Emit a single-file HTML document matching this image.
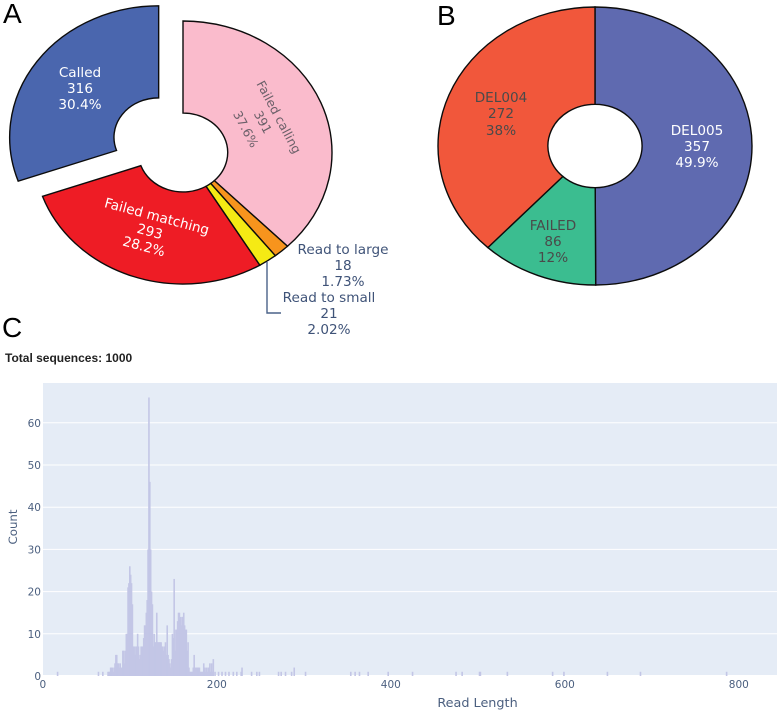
<!DOCTYPE html>
<html lang="en">
<head>
<meta charset="utf-8">
<title>Read classification and length distribution</title>
<style>
html,body{margin:0;padding:0;background:#fff;width:780px;height:713px;overflow:hidden}
svg{display:block;filter:blur(0.35px)}
text{font-family:"DejaVu Sans","Liberation Sans",sans-serif}
.pl{font-size:13.6px;text-anchor:middle}
.pr{font-size:12.4px;text-anchor:middle}
.panel{font-family:"Liberation Sans",sans-serif;font-size:28px;fill:#000}
.tick{font-size:10.5px;fill:#4b5f7f}
.title{font-size:12.8px;fill:#4b5f7f;text-anchor:middle}
</style>
</head>
<body>
<svg id="fig" xmlns="http://www.w3.org/2000/svg" width="780" height="713" viewBox="0 0 780 713">
  <rect x="0" y="0" width="780" height="713" fill="#fff"/>
  <g id="pieA"></g>
  <g id="pieB"></g>

  <text class="panel" x="3" y="23">A</text>
  <text class="panel" x="437" y="25">B</text>
  <text class="panel" x="2" y="337">C</text>

  <g fill="#fff">
    <text class="pl" x="80" y="77">Called</text>
    <text class="pl" x="80" y="93">316</text>
    <text class="pl" x="80" y="109">30.4%</text>
  </g>
  <g fill="#6a5f68">
    <text class="pr" transform="translate(279,117) rotate(62)" y="4.5">Failed calling</text>
    <text class="pr" transform="translate(263,122) rotate(62)" y="4.5">391</text>
    <text class="pr" transform="translate(246,129) rotate(62)" y="4.5">37.6%</text>
  </g>
  <g fill="#fff">
    <text class="pl" transform="translate(157,216) rotate(15)" y="5">Failed matching</text>
    <text class="pl" transform="translate(150,231) rotate(15)" y="5">293</text>
    <text class="pl" transform="translate(144,246) rotate(15)" y="5">28.2%</text>
  </g>
  <g fill="#3f5378">
    <text class="pl" x="343" y="254">Read to large</text>
    <text class="pl" x="343" y="270">18</text>
    <text class="pl" x="343" y="286">1.73%</text>
  </g>
  <g fill="#3f5378">
    <text class="pl" x="329" y="302">Read to small</text>
    <text class="pl" x="329" y="318">21</text>
    <text class="pl" x="329" y="334">2.02%</text>
  </g>
  <path d="M267 262V313H281" fill="none" stroke="#4a6288" stroke-width="1.4"/>

  <g fill="#fff">
    <text class="pl" x="697" y="135">DEL005</text>
    <text class="pl" x="697" y="151">357</text>
    <text class="pl" x="697" y="167">49.9%</text>
  </g>
  <g fill="#4a4a4a">
    <text class="pl" x="501" y="102">DEL004</text>
    <text class="pl" x="501" y="118">272</text>
    <text class="pl" x="501" y="135">38%</text>
  </g>
  <g fill="#4a4a4a">
    <text class="pl" x="553" y="230">FAILED</text>
    <text class="pl" x="553" y="246">86</text>
    <text class="pl" x="553" y="262">12%</text>
  </g>

  <text x="5" y="362" style="font-family:'Liberation Sans',sans-serif;font-weight:bold;font-size:12px;fill:#222">Total sequences: 1000</text>

  <rect x="43" y="383" width="734" height="293" fill="#e5ecf6"/>
  <g id="grid"></g>
  <g id="bars"></g>
  <g id="xticks"></g>
  <g id="yticks"></g>
  <text class="title" x="477.5" y="707">Read Length</text>
  <text class="title" style="font-size:11.8px" transform="translate(17,527) rotate(-90)">Count</text>
</svg>
<script>
var pieANames = ['failed-calling', 'read-to-large', 'read-to-small', 'failed-matching', 'called'];
var pieAValues = [391, 18, 21, 293, 316];
var pieAColors = ['#fabbcc', '#f7941d', '#f5ea14', '#ee1c25', '#4a66ae'];
var pieAPull = [0, 0, 0, 0, 0.2];

var pieBNames = ['del005', 'failed', 'del004'];
var pieBValues = [357, 86, 272];
var pieBColors = ['#5f6ab0', '#3bbd90', '#f1573b'];

var xTickValues = [0, 200, 400, 600, 800];
var yTickValues = [0, 10, 20, 30, 40, 50, 60];

var histLengths = [17,64,69,75,76,77,78,79,80,81,82,83,84,85,86,87,88,89,90,91,92,93,94,95,96,97,98,99,100,101,102,103,104,105,106,107,108,109,110,111,112,113,114,115,116,117,118,119,120,121,122,123,124,125,126,127,128,129,130,131,132,133,134,135,136,137,138,139,140,141,142,143,144,145,146,147,148,149,150,151,152,153,154,155,156,157,158,159,160,161,162,163,164,165,166,167,168,169,170,171,172,173,174,175,176,177,178,179,180,181,182,183,184,185,186,187,188,189,190,191,192,193,194,195,196,198,202,206,210,214,219,223,228,229,240,246,249,271,274,279,286,289,302,354,359,364,374,397,425,475,482,502,503,534,586,599,649,687,786];
var histCounts = [1,1,1,1,1,1,2,2,2,1,2,3,5,5,3,3,2,3,2,2,6,6,3,6,10,10,21,22,26,24,22,17,7,7,5,7,7,10,7,4,5,7,7,7,9,12,12,15,18,30,66,46,30,20,17,7,10,8,8,15,8,8,8,8,8,7,7,6,7,8,5,12,5,4,3,2,4,10,9,23,6,11,11,13,15,15,14,12,14,14,15,12,11,11,6,8,2,1,1,1,1,2,5,2,2,2,2,2,2,1,1,1,1,3,2,1,2,1,2,2,3,1,3,1,4,1,1,1,1,1,1,1,1,2,1,1,1,1,1,1,1,2,1,1,1,1,1,1,1,1,1,1,1,1,1,1,1,1,1];

var SVG_NS = 'http://www.w3.org/2000/svg';
var BAR_COLOR = '#c3c6e6';

function xScale(v) { return 42.8 + v * 0.87; }
function yScale(v) { return 676 - v * 4.22; }

function polar(g, frac, r) {
  var a = frac * 2 * Math.PI;
  return [g.cx + g.rx * r * Math.sin(a), g.cy - g.ry * r * Math.cos(a)];
}

function slicePath(g, f0, f1, pull) {
  var mid = (f0 + f1) / 2;
  var off = polar({cx: 0, cy: 0, rx: g.rx, ry: g.ry}, mid, pull);
  var s = {cx: g.cx + off[0], cy: g.cy + off[1], rx: g.rx, ry: g.ry};
  var hole = g.hole;
  var large = (f1 - f0) > 0.5 ? 1 : 0;
  var a = polar(s, f0, 1);
  var b = polar(s, f1, 1);
  var c = polar(s, f1, hole);
  var d = polar(s, f0, hole);
  return 'M' + a[0] + ' ' + a[1] +
    'A' + s.rx + ' ' + s.ry + ' 0 ' + large + ' 1 ' + b[0] + ' ' + b[1] +
    'L' + c[0] + ' ' + c[1] +
    'A' + s.rx * hole + ' ' + s.ry * hole + ' 0 ' + large + ' 0 ' + d[0] + ' ' + d[1] + 'Z';
}

function drawPie(parent, geom, names, values, colors, pulls) {
  var total = values.reduce(function (p, v) { return p + v; }, 0);
  var acc = 0;
  values.forEach(function (v, i) {
    var f0 = acc / total;
    acc += v;
    var f1 = acc / total;
    var p = document.createElementNS(SVG_NS, 'path');
    p.setAttribute('d', slicePath(geom, f0, f1, pulls ? pulls[i] : 0));
    p.setAttribute('fill', colors[i]);
    p.setAttribute('stroke', '#0c0c0c');
    p.setAttribute('stroke-width', '1.4');
    p.setAttribute('stroke-linejoin', 'miter');
    
    
    parent.appendChild(p);
  });
}

drawPie(document.getElementById('pieA'), {cx: 183, cy: 152.5, rx: 149, ry: 131.5, hole: 0.3}, pieANames, pieAValues, pieAColors, pieAPull);
drawPie(document.getElementById('pieB'), {cx: 595, cy: 146, rx: 157, ry: 139, hole: 0.3}, pieBNames, pieBValues, pieBColors, null);

var gridGroup = document.getElementById('grid');
var yGroup = document.getElementById('yticks');
yTickValues.forEach(function (v) {
  var l = document.createElementNS(SVG_NS, 'line');
  l.setAttribute('x1', 43);
  l.setAttribute('x2', 777);
  l.setAttribute('y1', yScale(v));
  l.setAttribute('y2', yScale(v));
  l.setAttribute('stroke', '#fff');
  l.setAttribute('stroke-width', v === 0 ? 2 : 1);
  
  
  gridGroup.appendChild(l);
  var t = document.createElementNS(SVG_NS, 'text');
  t.setAttribute('class', 'tick');
  t.setAttribute('x', 41);
  t.setAttribute('y', yScale(v) + 4);
  t.setAttribute('text-anchor', 'end');
  
  
  t.textContent = v;
  yGroup.appendChild(t);
});

var xGroup = document.getElementById('xticks');
xTickValues.forEach(function (v) {
  var t = document.createElementNS(SVG_NS, 'text');
  t.setAttribute('class', 'tick');
  t.setAttribute('x', xScale(v));
  t.setAttribute('y', 688);
  t.setAttribute('text-anchor', 'middle');
  
  
  t.textContent = v;
  xGroup.appendChild(t);
});

var barGroup = document.getElementById('bars');
histLengths.forEach(function (len, i) {
  var r = document.createElementNS(SVG_NS, 'rect');
  var top = yScale(histCounts[i]);
  r.setAttribute('x', xScale(len) - 0.8);
  r.setAttribute('width', 1.6);
  r.setAttribute('y', top);
  r.setAttribute('height', yScale(0) - top);
  r.setAttribute('fill', BAR_COLOR);
  
  
  barGroup.appendChild(r);
});
</script>
</body>
</html>
